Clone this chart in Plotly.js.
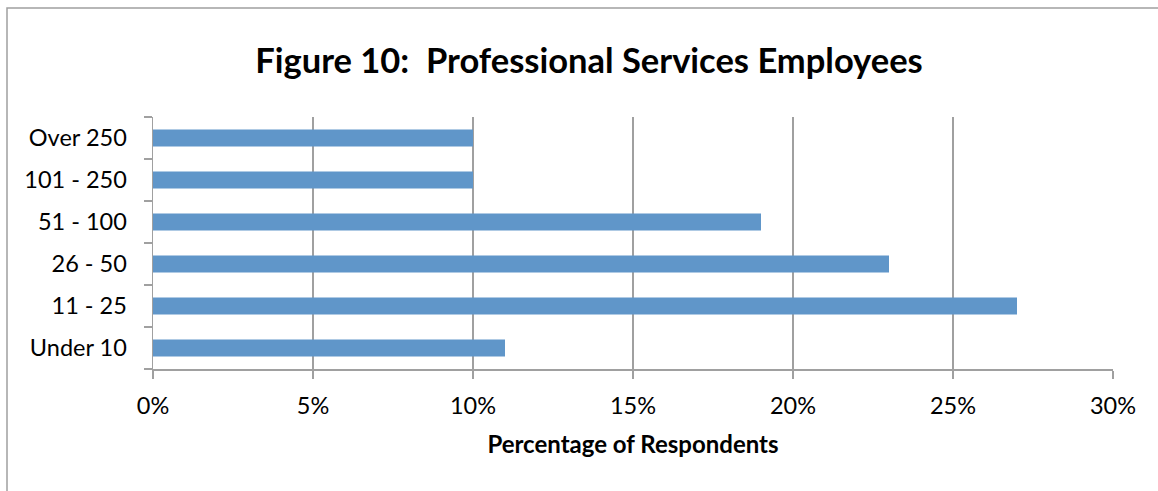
<!DOCTYPE html>
<html>
<head>
<meta charset="utf-8">
<script src="https://cdn.plot.ly/plotly-3.0.1.min.js"></script>
<style>
  html, body { margin: 0; padding: 0; background: #fff; }
  #chart { width: 1158px; height: 491px; }
</style>
</head>
<body>
<div id="chart"></div>
<script>
// Data
const categories = ['Under 10', '11 - 25', '26 - 50', '51 - 100', '101 - 250', 'Over 250'];
const percentages = [11, 27, 23, 19, 10, 10];
const xTickValues = [0, 5, 10, 15, 20, 25, 30];
const xTickLabels = ['0%', '5%', '10%', '15%', '20%', '25%', '30%'];
const chartTitle = 'Figure 10:  Professional Services Employees';
const xAxisTitle = 'Percentage of Respondents';

const W = 1158, H = 491;
const mL = 153, mR = W - 1113, mT = 117, mB = H - 369;
const pw = W - mL - mR, ph = H - mT - mB;
const gridColor = '#A0A0A0';
const font = 'Lato, "Open Sans", sans-serif';

const trace = {
  type: 'bar',
  orientation: 'h',
  x: percentages,
  y: categories,
  marker: { color: '#6096C9', line: { width: 0 } },
  hoverinfo: 'none'
};

const layout = {
  width: W, height: H,
  margin: { l: mL, r: mR, t: mT, b: mB, pad: 0 },
  paper_bgcolor: '#ffffff',
  plot_bgcolor: '#ffffff',
  showlegend: false,
  bargap: 0.595,
  font: { family: font, color: '#000000' },
  title: {
    text: '<b>' + chartTitle + '</b>',
    font: { family: font, size: 34.5, color: '#000000' },
    x: 589 / W, xanchor: 'center', xref: 'container',
    y: 1 - 61 / H, yanchor: 'middle', yref: 'container'
  },
  xaxis: {
    range: [0, 30],
    tickvals: xTickValues,
    ticktext: xTickLabels,
    showgrid: true, gridcolor: gridColor, gridwidth: 1.5,
    zeroline: false,
    showline: true, linecolor: gridColor, linewidth: 1.5,
    ticks: 'outside', ticklen: 8, tickcolor: gridColor, tickwidth: 1.5,
    ticklabelstandoff: 7,
    tickfont: { family: font, size: 23.5, color: '#000000' },
    title: {
      text: '<b>' + xAxisTitle + '</b>',
      font: { family: font, size: 24, color: '#000000' },
      standoff: 18
    },
    fixedrange: true
  },
  yaxis: {
    type: 'category',
    categoryorder: 'array',
    categoryarray: categories,
    showgrid: false,
    zeroline: false,
    showline: true, linecolor: gridColor, linewidth: 1.5,
    ticks: 'outside', tickson: 'boundaries', ticklen: 8, tickcolor: gridColor, tickwidth: 1.5,
    ticklabelstandoff: 20,
    tickfont: { family: font, size: 23.5, color: '#000000' },
    fixedrange: true
  },
  shapes: [{
    type: 'rect', xref: 'paper', yref: 'paper',
    x0: (7 - mL) / pw, x1: (1180 - mL) / pw,
    y0: -(500 - 369) / ph, y1: 1 + (mT - 8) / ph,
    line: { color: gridColor, width: 1.5 },
    fillcolor: 'rgba(0,0,0,0)',
    layer: 'below'
  }]
};

Plotly.newPlot('chart', [trace], layout, { staticPlot: true, displayModeBar: false });
</script>
</body>
</html>
